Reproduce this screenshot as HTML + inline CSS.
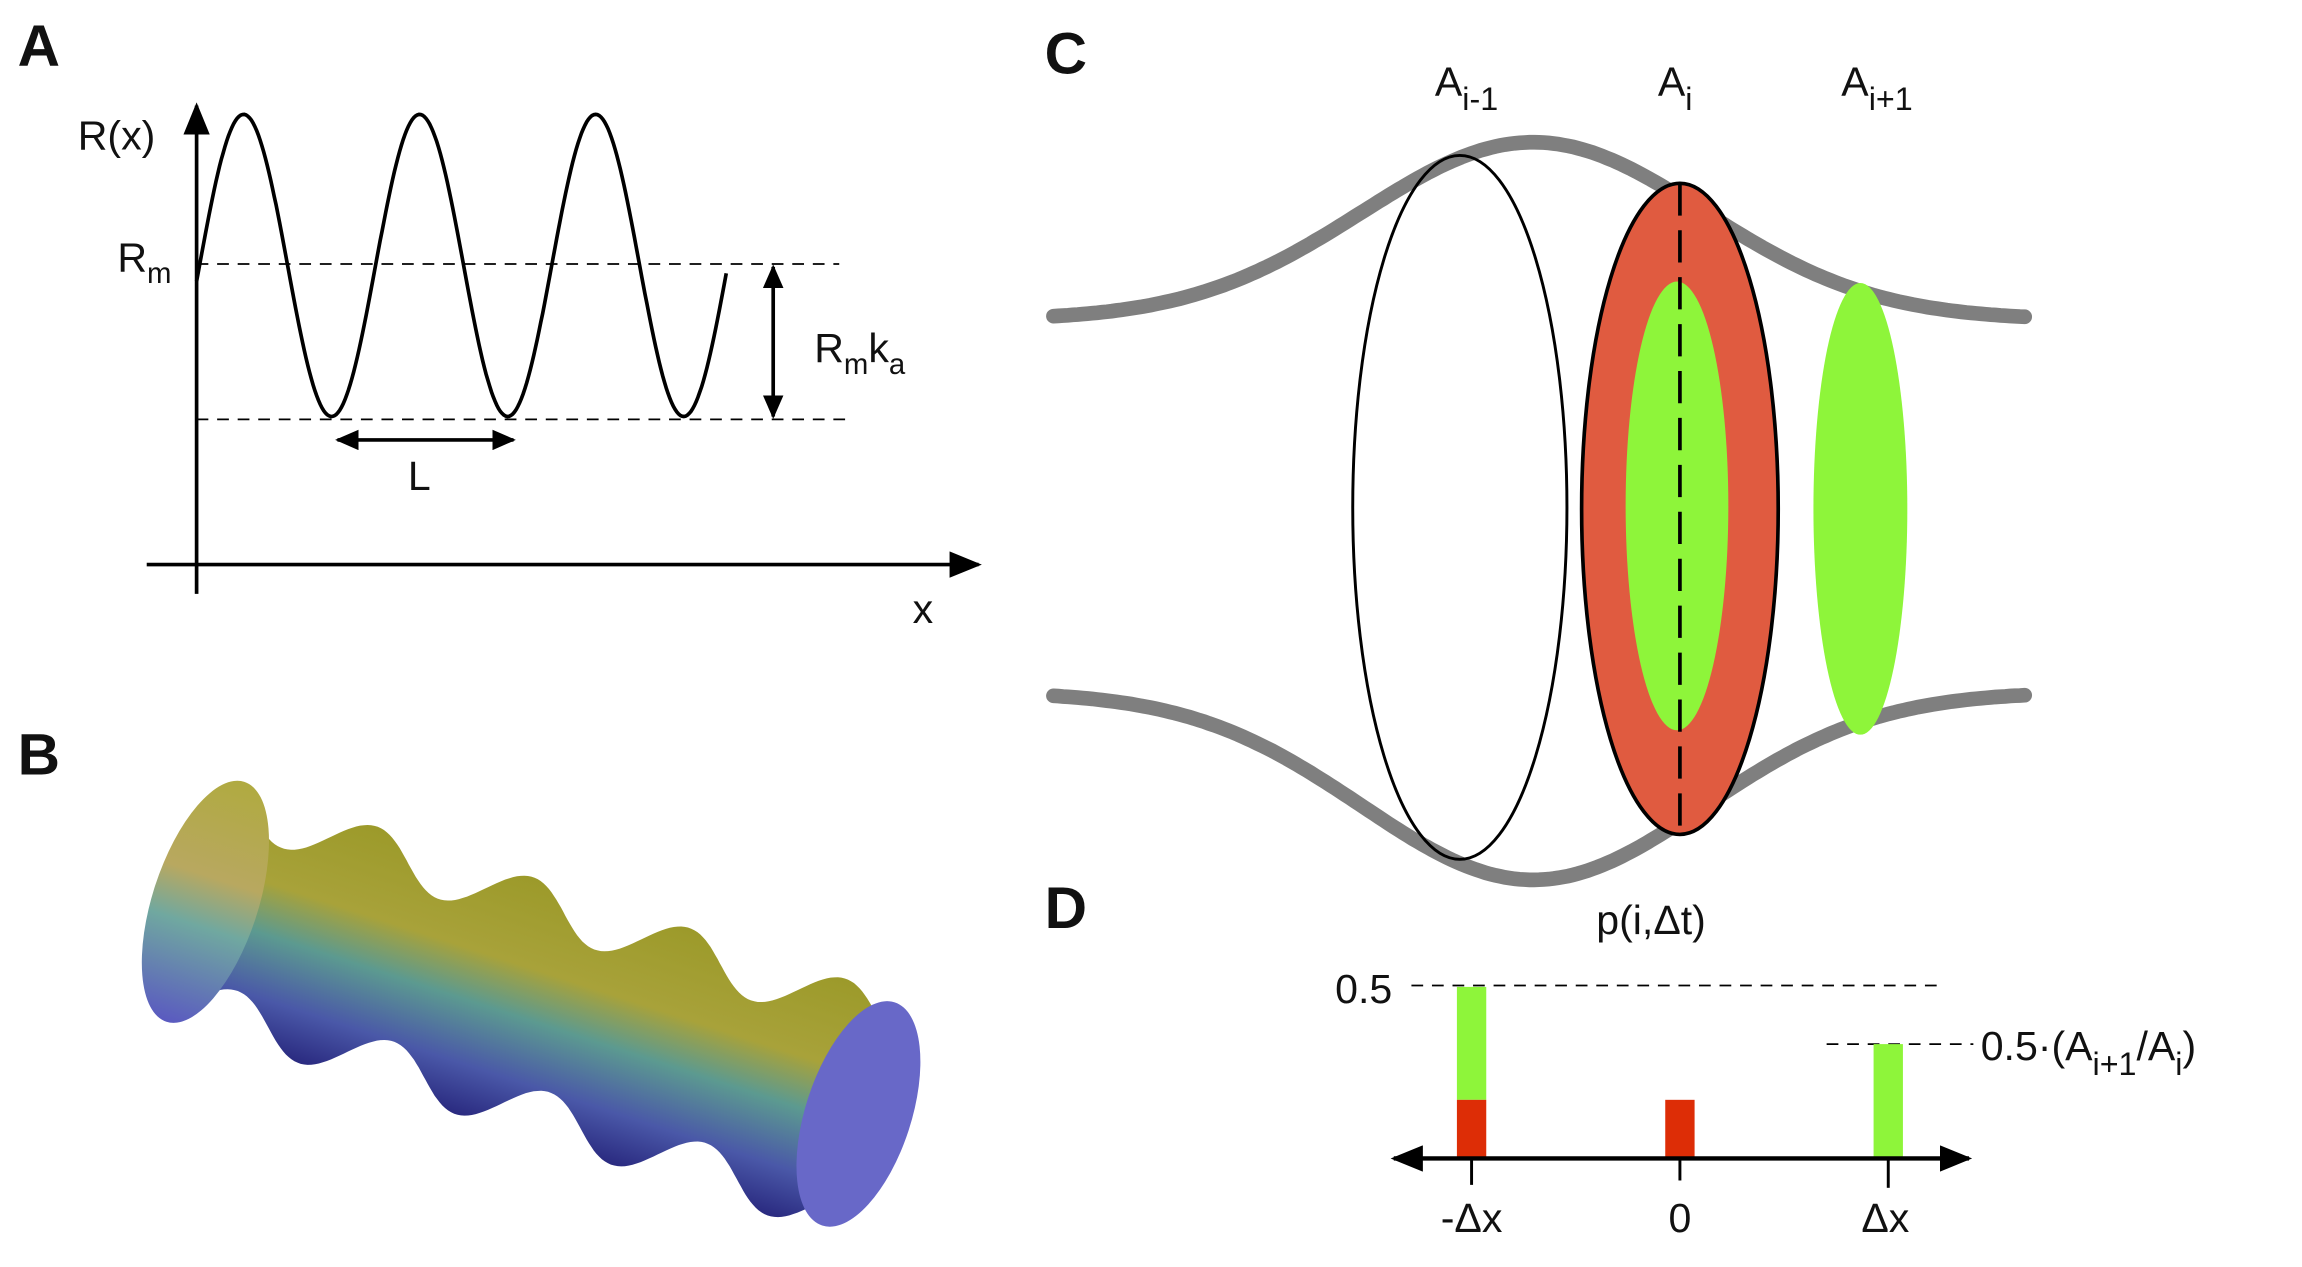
<!DOCTYPE html>
<html><head><meta charset="utf-8"><style>
html,body{margin:0;padding:0;background:#fff}
svg{display:block}
text{font-family:"Liberation Sans",sans-serif;fill:#111}
.lab{font-weight:bold;font-size:40px}
.t{font-size:28px}
</style></head><body>
<svg id="s" width="2302" height="1267" viewBox="0 0 1569 864" preserveAspectRatio="none" xmlns="http://www.w3.org/2000/svg">
<defs>
<marker id="arL" viewBox="0 0 10 10" markerWidth="22" markerHeight="18" refX="9" refY="5" orient="auto-start-reverse" markerUnits="userSpaceOnUse" preserveAspectRatio="none"><path d="M0,0 L10,5 L0,10z" fill="#000"/></marker>
<marker id="arS" viewBox="0 0 10 10" markerWidth="16" markerHeight="14" refX="9" refY="5" orient="auto-start-reverse" markerUnits="userSpaceOnUse" preserveAspectRatio="none"><path d="M0,0 L10,5 L0,10z" fill="#000"/></marker>
<linearGradient id="tg" x1="0" y1="0" x2="0" y2="1">
<stop offset="0" stop-color="#9c9a2a"/><stop offset="0.35" stop-color="#a8a23a"/><stop offset="0.55" stop-color="#5c9a90"/><stop offset="0.8" stop-color="#4a58a8"/><stop offset="1" stop-color="#2a2a80"/>
</linearGradient>
<linearGradient id="eg" x1="0" y1="0" x2="0" y2="1">
<stop offset="0" stop-color="#b0aa40"/><stop offset="0.4" stop-color="#b8a860"/><stop offset="0.6" stop-color="#70a8a0"/><stop offset="1" stop-color="#5a5ac0"/>
</linearGradient>
</defs>
<text class="lab" x="12" y="45">A</text>
<text class="lab" x="12" y="528">B</text>
<text class="lab" x="712" y="50">C</text>
<text class="lab" x="712" y="633">D</text>

<line x1="134" y1="405" x2="134" y2="72" stroke="#000" stroke-width="2.5" marker-end="url(#arL)"/>
<line x1="100" y1="385" x2="667" y2="385" stroke="#000" stroke-width="2.5" marker-end="url(#arL)"/>
<path id="sine" fill="none" stroke="#000" stroke-width="2.5"/>
<line x1="134" y1="180" x2="572" y2="180" stroke="#000" stroke-width="1.2" stroke-dasharray="8,6"/>
<line x1="134" y1="286" x2="580" y2="286" stroke="#000" stroke-width="1.2" stroke-dasharray="8,6"/>
<line x1="527" y1="182" x2="527" y2="284" stroke="#000" stroke-width="2.5" marker-start="url(#arS)" marker-end="url(#arS)"/>
<line x1="230" y1="300" x2="350" y2="300" stroke="#000" stroke-width="2.5" marker-start="url(#arS)" marker-end="url(#arS)"/>
<text class="t" x="53" y="102">R(x)</text>
<text class="t" x="80" y="185">R<tspan font-size="20" dy="8">m</tspan></text>
<text class="t" x="555" y="247">R<tspan font-size="20" dy="8">m</tspan><tspan dy="-8">k</tspan><tspan font-size="20" dy="8">a</tspan></text>
<text class="t" x="278" y="334">L</text>
<text class="t" x="622" y="425">x</text>

<g transform="translate(140,615) rotate(18)">
<path id="tube" fill="url(#tg)"/>
<ellipse cx="0" cy="0" rx="36" ry="86" fill="url(#eg)"/>
<ellipse cx="468" cy="0" rx="36" ry="80" fill="#6868c8"/>
</g>

<path id="tt" fill="none" stroke="#7f7f7f" stroke-width="10" stroke-linecap="round"/>
<path id="tb" fill="none" stroke="#7f7f7f" stroke-width="10" stroke-linecap="round"/>
<ellipse cx="995" cy="346" rx="73" ry="240" fill="none" stroke="#000" stroke-width="2"/>
<ellipse cx="1145" cy="347" rx="67" ry="222" fill="#e05b40" stroke="#000" stroke-width="2.5"/>
<ellipse cx="1143" cy="345" rx="35" ry="153" fill="#8ef53a"/>
<ellipse cx="1268" cy="347" rx="32" ry="154" fill="#8ef53a"/>
<line x1="1145" y1="125" x2="1145" y2="570" stroke="#000" stroke-width="2.5" stroke-dasharray="22,10"/>
<text class="t" x="978" y="65">A<tspan font-size="22" dy="10">i-1</tspan></text>
<text class="t" x="1130" y="65">A<tspan font-size="22" dy="10">i</tspan></text>
<text class="t" x="1255" y="65">A<tspan font-size="22" dy="10">i+1</tspan></text>

<text class="t" x="1088" y="637">p(i,Δt)</text>
<line x1="962" y1="672" x2="1322" y2="672" stroke="#000" stroke-width="1.2" stroke-dasharray="8,6"/>
<line x1="1245" y1="712" x2="1345" y2="712" stroke="#000" stroke-width="1.2" stroke-dasharray="8,6"/>
<rect x="993" y="673" width="20" height="77" fill="#8ef53a"/>
<rect x="993" y="750" width="20" height="39" fill="#dd2d06"/>
<rect x="1135" y="750" width="20" height="39" fill="#dd2d06"/>
<rect x="1277" y="712" width="20" height="77" fill="#8ef53a"/>
<line x1="950" y1="790" x2="1342" y2="790" stroke="#000" stroke-width="3" marker-start="url(#arL)" marker-end="url(#arL)"/>
<line x1="1003" y1="790" x2="1003" y2="808" stroke="#000" stroke-width="2"/>
<line x1="1145" y1="790" x2="1145" y2="805" stroke="#000" stroke-width="2"/>
<line x1="1287" y1="790" x2="1287" y2="810" stroke="#000" stroke-width="2"/>
<text class="t" x="910" y="684">0.5</text>
<text class="t" x="1350" y="723">0.5·(A<tspan font-size="22" dy="10">i+1</tspan><tspan dy="-10">/A</tspan><tspan font-size="22" dy="10">i</tspan><tspan dy="-10">)</tspan></text>
<text class="t" x="1003" y="840" text-anchor="middle">-Δx</text>
<text class="t" x="1145" y="840" text-anchor="middle">0</text>
<text class="t" x="1285" y="840" text-anchor="middle">Δx</text>
</svg>
<script>
(function(){
function pts(f,a,b,n){var d="";for(var i=0;i<=n;i++){var x=a+(b-a)*i/n;d+=(i?"L":"M")+x.toFixed(1)+","+f(x).toFixed(1);}return d;}
document.getElementById("sine").setAttribute("d",pts(function(x){return 181-103*Math.sin(2*Math.PI*(x-136)/120);},134,495,300));
function g(x){return Math.exp(-Math.pow((x-1045)/165,2));}
document.getElementById("tt").setAttribute("d",pts(function(x){return 218-121*g(x);},718,1380,200));
document.getElementById("tb").setAttribute("d",pts(function(x){return 472+128*g(x);},718,1380,200));
function r(x){return 68+17*Math.cos(2*Math.PI*(x-95)/112);}
var up="",dn="";
for(var i=0;i<=200;i++){var x=468*i/200;up+=(i?"L":"M")+x.toFixed(1)+","+(-r(x)).toFixed(1);}
for(var j=200;j>=0;j--){var x2=468*j/200;dn+="L"+x2.toFixed(1)+","+r(x2).toFixed(1);}
document.getElementById("tube").setAttribute("d",up+dn+"Z");
})();
</script>
</body></html>
